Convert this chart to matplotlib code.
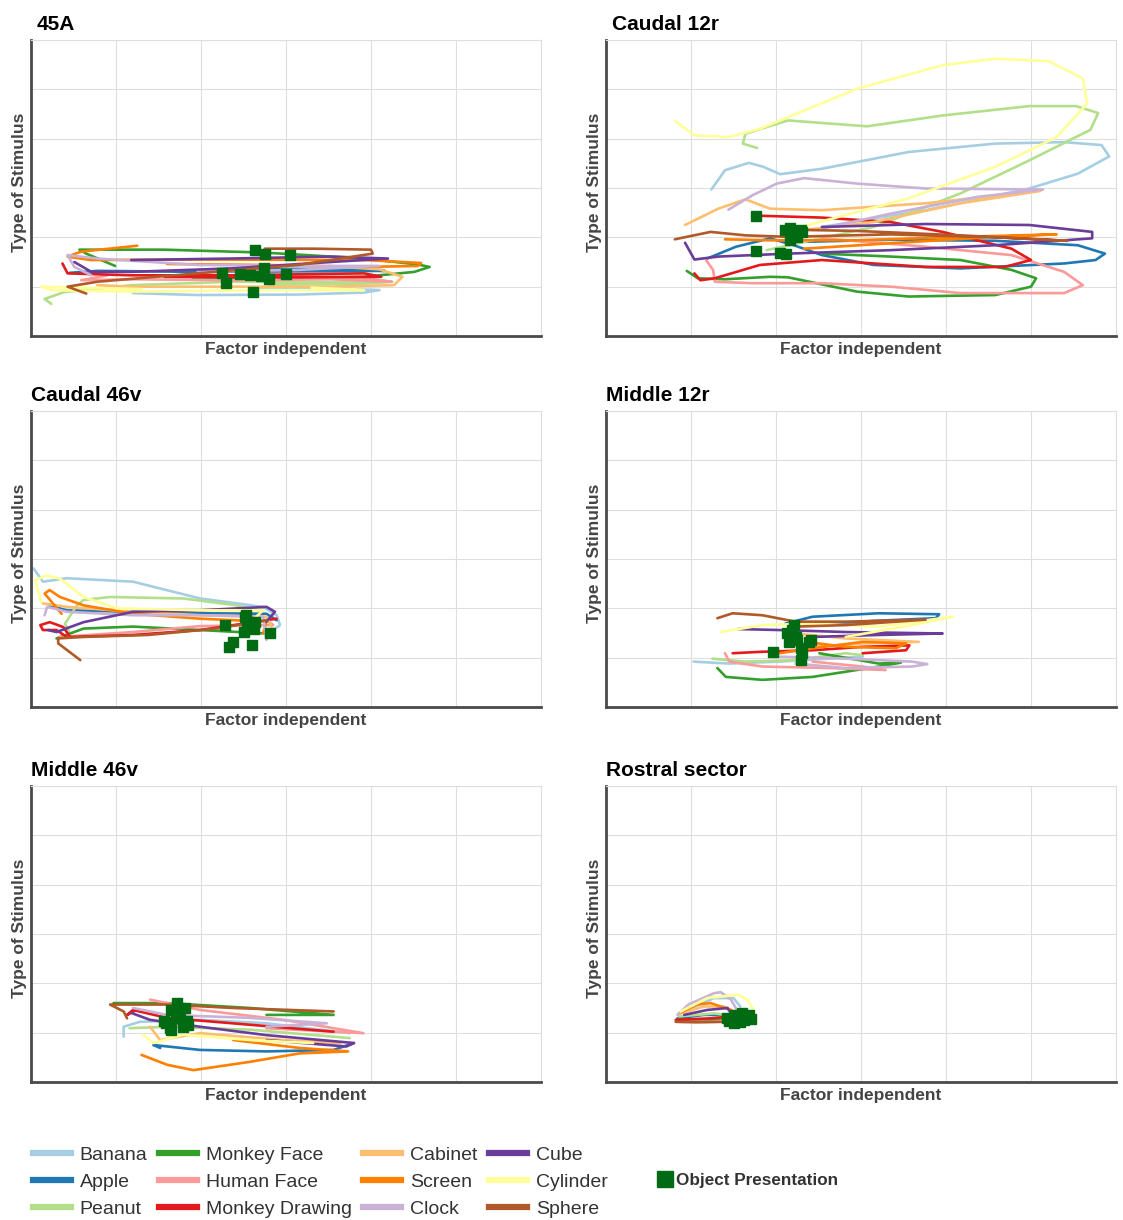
import matplotlib
matplotlib.use("Agg")
import matplotlib.pyplot as plt
from matplotlib.lines import Line2D

plt.rcParams['font.family'] = ['Liberation Sans', 'DejaVu Sans']

stimuli = ['Banana', 'Apple', 'Peanut', 'Monkey Face', 'Human Face', 'Monkey Drawing',
           'Cabinet', 'Screen', 'Clock', 'Cube', 'Cylinder', 'Sphere']
colors = ['#a6cee3', '#1f78b4', '#b2df8a', '#33a02c', '#fb9a99', '#e31a1c',
          '#fdbf6f', '#ff7f00', '#cab2d6', '#6a3d9a', '#ffff99', '#b15928']
regions = ['45A', 'Caudal 12r', 'Caudal 46v', 'Middle 12r', 'Middle 46v', 'Rostral sector']

# trajectories, one list per stimulus (same order as `stimuli`)
a45_x = [[1.2, 1.96, 3.14, 3.92, 4.1, 3.5, 2.6],
         [0.45, 0.78, 1.96, 3.14, 4.16, 3.5, 2.3],
         [0.24, 0.16, 0.39, 1.18, 2.35, 3.53, 4.25, 3.9, 2.8],
         [0.99, 0.65, 0.57, 1.57, 2.75, 3.92, 4.55, 4.69, 4.51, 3.92, 2.75, 1.9],
         [0.9, 0.59, 1.18, 2.35, 3.53, 4.24, 3.9, 3.0],
         [0.37, 0.43, 1.18, 2.35, 3.92, 4.12, 3.14, 1.57],
         [0.78, 1.18, 2.35, 3.53, 4.27, 4.37, 4.1, 3.5],
         [1.25, 0.59, 0.43, 0.7, 2.0, 3.92, 4.59, 4.55, 3.92, 2.75, 1.6],
         [0.71, 0.51, 0.43, 0.78, 1.96, 3.2, 4.1, 3.14, 1.96],
         [0.51, 0.71, 1.18, 2.35, 3.53, 4.2, 3.53, 2.35, 1.18],
         [1.3, 0.6, 0.12, 0.24, 1.18, 2.75, 3.92, 3.3],
         [0.65, 0.43, 0.78, 1.96, 3.14, 4.02, 4.0, 3.33, 2.75]]
a45_y = [[0.87, 0.83, 0.84, 0.88, 0.93, 0.97, 0.98],
         [1.28, 1.32, 1.30, 1.31, 1.32, 1.36, 1.36],
         [0.65, 0.75, 0.89, 1.03, 1.10, 1.09, 1.10, 1.06, 1.04],
         [1.42, 1.67, 1.75, 1.75, 1.69, 1.57, 1.45, 1.40, 1.30, 1.20, 1.17, 1.18],
         [1.23, 1.13, 1.15, 1.13, 1.15, 1.10, 1.18, 1.22],
         [1.47, 1.27, 1.23, 1.23, 1.27, 1.20, 1.19, 1.20],
         [1.03, 1.0, 1.0, 1.0, 1.03, 1.2, 1.35, 1.42],
         [1.83, 1.71, 1.61, 1.54, 1.55, 1.54, 1.48, 1.42, 1.40, 1.44, 1.46],
         [1.23, 1.40, 1.64, 1.57, 1.44, 1.42, 1.42, 1.34, 1.30],
         [1.50, 1.30, 1.30, 1.37, 1.50, 1.57, 1.61, 1.57, 1.54],
         [0.95, 0.98, 1.0, 0.93, 0.90, 0.93, 0.93, 0.98],
         [0.86, 1.0, 1.10, 1.27, 1.44, 1.67, 1.75, 1.77, 1.77]]
a45_mx = [2.64, 2.75, 3.05, 2.25, 2.29, 2.46, 2.58, 2.71, 2.74, 2.80, 3.0, 2.61]
a45_my = [1.74, 1.67, 1.64, 1.27, 1.08, 1.26, 1.24, 1.22, 1.37, 1.15, 1.25, 0.90]

c12_x = [[1.24, 1.40, 1.68, 1.85, 2.05, 2.54, 3.56, 4.58, 5.39, 5.83, 5.92, 5.55, 4.98, 3.76, 2.54],
         [1.19, 1.53, 1.93, 2.21, 2.54, 3.15, 4.17, 5.39, 5.76, 5.87, 5.55, 4.58, 3.35, 2.33],
         [1.78, 1.61, 1.64, 2.14, 3.07, 3.96, 4.98, 5.53, 5.79, 5.70, 4.98, 4.17, 3.15, 1.89],
         [0.95, 1.08, 1.40, 1.93, 2.14, 2.95, 3.56, 4.58, 5.0, 5.06, 4.77, 4.17, 3.35, 2.54],
         [1.18, 1.26, 1.28, 1.72, 2.54, 3.35, 4.17, 5.39, 5.61, 5.39, 4.77, 3.76, 2.54],
         [1.76, 2.54, 3.35, 3.96, 4.77, 5.0, 4.69, 3.76, 2.54, 1.81, 1.28, 1.11, 1.04],
         [0.93, 1.32, 1.64, 1.93, 2.54, 3.76, 5.11, 4.17, 3.15, 2.33],
         [1.40, 1.93, 2.95, 4.17, 5.30, 4.58, 3.35, 2.33],
         [1.44, 1.72, 2.01, 2.33, 2.95, 3.76, 5.14, 4.37, 3.35, 2.54],
         [0.93, 1.04, 1.32, 2.14, 3.35, 4.58, 5.72, 5.72, 4.98, 3.76, 2.54],
         [0.81, 1.04, 1.44, 1.81, 2.95, 3.96, 4.58, 5.21, 5.61, 5.66, 5.30, 4.58, 3.56, 2.29],
         [0.81, 1.23, 1.64, 2.14, 3.35, 4.58, 5.43, 4.17, 2.95, 2.33]]
c12_y = [[2.97, 3.36, 3.51, 3.43, 3.28, 3.39, 3.73, 3.9, 3.93, 3.87, 3.64, 3.29, 2.99, 2.55, 2.21],
         [1.57, 1.81, 1.98, 1.84, 1.64, 1.44, 1.37, 1.47, 1.54, 1.67, 1.84, 1.93, 1.95, 1.91],
         [3.81, 3.9, 4.1, 4.37, 4.25, 4.47, 4.66, 4.66, 4.52, 4.18, 3.56, 2.89, 2.21, 1.74],
         [1.32, 1.17, 1.15, 1.20, 1.19, 0.90, 0.80, 0.83, 1.0, 1.17, 1.34, 1.54, 1.61, 1.67],
         [1.53, 1.34, 1.10, 1.07, 1.07, 1.0, 0.87, 0.87, 1.03, 1.30, 1.64, 1.81, 1.98],
         [2.44, 2.40, 2.31, 2.11, 1.77, 1.54, 1.40, 1.40, 1.54, 1.44, 1.17, 1.13, 1.27],
         [2.25, 2.58, 2.77, 2.58, 2.55, 2.69, 2.94, 2.69, 2.31, 2.15],
         [1.96, 1.94, 1.94, 2.01, 2.06, 2.01, 1.88, 1.77],
         [2.56, 2.85, 3.09, 3.2, 3.09, 2.99, 2.97, 2.82, 2.48, 2.18],
         [1.89, 1.55, 1.61, 1.67, 1.74, 1.84, 1.98, 2.11, 2.25, 2.27, 2.21],
         [4.36, 4.07, 4.03, 4.2, 5.01, 5.49, 5.62, 5.57, 5.22, 4.71, 4.03, 3.43, 2.79, 2.21],
         [1.96, 2.11, 2.04, 2.01, 2.06, 2.0, 1.93, 2.04, 2.13, 2.15]]
c12_mx = [1.76, 1.76, 2.05, 2.12, 2.10, 2.17, 2.23, 2.31, 2.16, 2.25, 2.19, 2.29]
c12_my = [2.44, 1.72, 1.69, 1.67, 2.15, 2.18, 2.11, 2.10, 1.94, 2.01, 2.08, 2.15]

c46_x = [[0.03, 0.14, 0.42, 1.2, 1.99, 2.73, 2.89, 2.93, 2.81],
         [0.22, 0.42, 1.2, 2.0, 2.77, 2.89],
         [0.46, 0.40, 0.54, 0.62, 0.93, 1.79, 2.38, 2.69],
         [0.30, 0.62, 1.2, 1.99, 2.77],
         [0.34, 1.2, 1.99, 2.85, 2.77],
         [0.42, 0.30, 0.14, 0.11, 0.22, 0.38, 0.46, 1.2, 1.99, 2.89],
         [0.14, 0.42, 1.2, 1.99, 2.77, 2.83],
         [0.36, 0.16, 0.22, 0.34, 0.62, 1.2, 1.99, 2.77, 2.73],
         [0.16, 0.19, 0.42, 1.2, 1.99, 2.73, 2.77],
         [0.2, 0.30, 0.62, 1.2, 1.99, 2.77, 2.87, 2.77],
         [0.12, 0.05, 0.18, 0.34, 0.62, 1.01, 1.99, 2.73, 2.65],
         [0.58, 0.32, 0.32, 0.62, 1.38, 2.18, 2.77]]
c46_y = [[2.81, 2.54, 2.61, 2.54, 2.2, 2.03, 1.86, 1.66, 1.52],
         [2.06, 1.96, 1.93, 1.9, 1.89, 1.76],
         [1.49, 1.69, 2.06, 2.17, 2.23, 2.2, 2.07, 1.96],
         [1.39, 1.59, 1.63, 1.56, 1.49],
         [1.42, 1.52, 1.64, 1.66, 1.76],
         [1.42, 1.56, 1.56, 1.66, 1.72, 1.62, 1.42, 1.46, 1.56, 1.79],
         [2.1, 2.03, 1.93, 1.86, 1.83, 1.63],
         [1.89, 2.3, 2.37, 2.23, 2.06, 1.89, 1.79, 1.73, 1.49],
         [1.86, 2.03, 1.93, 1.86, 1.86, 1.83, 1.36],
         [1.56, 1.52, 1.72, 1.93, 1.96, 2.03, 1.93, 1.73],
         [2.13, 2.57, 2.67, 2.6, 2.23, 2.0, 1.96, 1.96, 1.83],
         [0.95, 1.29, 1.39, 1.42, 1.46, 1.59, 1.76]]
c46_mx = [2.53, 2.64, 2.54, 2.62, 2.50, 2.28, 2.81, 2.38, 2.33, 2.60, 2.52, 2.58]
c46_my = [1.86, 1.73, 1.73, 1.59, 1.52, 1.66, 1.49, 1.32, 1.21, 1.25, 1.83, 1.66]

m12_x = [[1.03, 1.45, 2.04, 2.62, 3.02],
         [2.11, 2.43, 3.21, 3.92, 3.88, 3.21, 2.62],
         [1.25, 1.64, 2.23, 2.82, 3.02],
         [1.31, 1.41, 1.84, 2.43, 3.21, 3.47, 3.21, 2.51],
         [1.4, 1.45, 1.84, 2.62, 3.29, 3.02, 2.43],
         [1.49, 1.84, 2.43, 3.02, 3.57, 3.53, 3.02],
         [2.23, 2.82, 3.68, 3.02, 2.43],
         [2.04, 2.43, 3.02, 3.53, 3.41, 2.82, 2.35],
         [2.04, 2.82, 3.6, 3.78, 3.6, 2.82, 2.23],
         [1.55, 2.04, 2.82, 3.96, 3.21, 2.43],
         [1.35, 1.84, 2.43, 3.21, 4.08, 3.6, 2.82],
         [1.31, 1.49, 1.84, 2.23, 2.82, 3.76, 2.82, 2.23]]
m12_y = [[0.92, 0.88, 0.92, 0.98, 1.02],
         [1.69, 1.83, 1.9, 1.88, 1.8, 1.75, 1.69],
         [0.98, 0.92, 0.95, 1.09, 1.05],
         [0.79, 0.61, 0.55, 0.61, 0.82, 0.9, 0.88, 1.09],
         [1.09, 0.92, 0.82, 0.79, 0.75, 0.82, 0.92],
         [1.09, 1.12, 1.15, 1.22, 1.25, 1.15, 1.09],
         [1.49, 1.39, 1.32, 1.29, 1.22],
         [1.09, 1.19, 1.32, 1.29, 1.19, 1.22, 1.32],
         [1.02, 0.98, 0.92, 0.87, 0.82, 0.79, 0.88],
         [1.58, 1.56, 1.52, 1.49, 1.46, 1.42],
         [1.52, 1.66, 1.69, 1.63, 1.83, 1.66, 1.42],
         [1.8, 1.9, 1.86, 1.73, 1.73, 1.77, 1.66, 1.63]]
m12_mx = [2.21, 2.19, 2.13, 2.15, 2.25, 2.39, 2.41, 2.29, 2.31, 2.29, 1.97, 2.23]
m12_my = [1.66, 1.56, 1.49, 1.32, 1.36, 1.32, 1.36, 1.19, 1.09, 0.95, 1.11, 1.42]

m46_x = [[1.09, 1.09, 1.28, 1.99, 2.77, 3.75],
         [1.52, 1.44, 1.99, 2.77, 3.56, 3.8],
         [1.16, 1.6, 2.58, 3.75],
         [0.97, 1.6, 2.58, 3.56, 2.77],
         [1.4, 1.99, 2.97, 3.91, 3.56, 2.77],
         [1.24, 1.13, 1.2, 1.6, 2.58, 3.56],
         [1.4, 1.52, 1.99, 2.97, 3.64],
         [1.3, 1.6, 1.91, 2.58, 3.16, 3.73, 3.16, 2.38],
         [1.2, 1.6, 2.58, 3.48, 2.77],
         [1.18, 1.40, 1.99, 2.77, 3.8, 3.71, 2.77],
         [1.32, 1.44, 1.79, 2.58, 3.32],
         [1.13, 1.09, 0.93, 1.6, 2.38, 3.56]]
m46_y = [[0.92, 1.12, 1.22, 1.26, 1.19, 0.99],
         [0.69, 0.75, 0.65, 0.62, 0.65, 0.79],
         [1.09, 1.12, 1.06, 0.89],
         [1.60, 1.60, 1.50, 1.36, 1.36],
         [1.67, 1.46, 1.26, 0.99, 1.02, 1.09],
         [1.46, 1.36, 1.46, 1.30, 1.16, 1.02],
         [1.12, 0.85, 0.99, 0.85, 0.79],
         [0.55, 0.35, 0.24, 0.41, 0.58, 0.62, 0.69, 0.85],
         [1.50, 1.36, 1.30, 1.19, 1.12],
         [1.40, 1.26, 1.12, 0.95, 0.79, 0.72, 0.85],
         [0.96, 0.79, 0.96, 0.85, 0.79],
         [1.29, 1.43, 1.57, 1.57, 1.50, 1.43]]
m46_mx = [1.72, 1.65, 1.81, 1.75, 1.59, 1.64, 1.71, 1.83, 1.79, 1.65, 1.56, 1.85]
m46_my = [1.61, 1.46, 1.50, 1.40, 1.19, 1.09, 1.30, 1.23, 1.12, 1.06, 1.23, 1.16]

ros_x = [[0.92, 1.27, 1.5, 1.58],
         [0.84, 1.15, 1.47],
         [0.86, 1.27, 1.55],
         [0.84, 1.19, 1.47],
         [0.84, 1.27, 1.47],
         [0.82, 1.23, 1.47],
         [0.88, 1.15, 1.39, 1.51],
         [0.86, 1.07, 1.23, 1.47],
         [0.84, 0.97, 1.27, 1.35, 1.47, 1.55],
         [0.92, 1.19, 1.43, 1.47],
         [0.88, 1.19, 1.55, 1.66, 1.74],
         [0.82, 1.07, 1.39]]
ros_y = [[1.43, 1.70, 1.70, 1.53],
         [1.29, 1.36, 1.36],
         [1.33, 1.39, 1.33],
         [1.26, 1.26, 1.29],
         [1.22, 1.22, 1.26],
         [1.26, 1.29, 1.33],
         [1.39, 1.53, 1.53, 1.43],
         [1.39, 1.57, 1.60, 1.46],
         [1.36, 1.57, 1.80, 1.82, 1.67, 1.43],
         [1.36, 1.46, 1.50, 1.39],
         [1.43, 1.70, 1.77, 1.67, 1.46],
         [1.22, 1.21, 1.22]]
ros_mx = [1.42, 1.48, 1.52, 1.56, 1.60, 1.64, 1.68, 1.70, 1.58, 1.50, 1.45, 1.62]
ros_my = [1.30, 1.25, 1.36, 1.30, 1.40, 1.33, 1.36, 1.28, 1.22, 1.20, 1.24, 1.26]

panels = [(a45_x, a45_y, a45_mx, a45_my), (c12_x, c12_y, c12_mx, c12_my),
          (c46_x, c46_y, c46_mx, c46_my), (m12_x, m12_y, m12_mx, m12_my),
          (m46_x, m46_y, m46_mx, m46_my), (ros_x, ros_y, ros_mx, ros_my)]

W, H = 1123, 1220
fig = plt.figure(figsize=(W / 100, H / 100), dpi=100)
col_left = [31, 606]
row_bottom = [336, 707, 1082]
marker_col = '#006b12'

for i, (xs, ys, mx, my) in enumerate(panels):
    r, c = divmod(i, 2)
    ax = fig.add_axes([col_left[c] / W, (H - row_bottom[r]) / H, 510 / W, 296 / H])
    for k in range(len(stimuli)):
        ax.plot(xs[k], ys[k], color=colors[k], lw=1.9, solid_joinstyle='round',
                solid_capstyle='round', zorder=2)
    ax.plot(mx, my, 's', color=marker_col, ms=7, zorder=4)
    ax.set_xlim(0, 6)
    ax.set_ylim(0, 6)
    ax.set_xticks(range(7))
    ax.set_yticks(range(7))
    ax.tick_params(length=0, labelbottom=False, labelleft=False)
    ax.grid(True, color='#dedede', lw=0.8, zorder=0)
    ax.set_axisbelow(True)
    for s in ['top', 'right']:
        ax.spines[s].set_color('#dedede')
        ax.spines[s].set_linewidth(0.8)
    for s in ['left', 'bottom']:
        ax.spines[s].set_color('#4a4a4a')
        ax.spines[s].set_linewidth(2)
    ax.set_xlabel('Factor independent', fontsize=12.5, fontweight='bold', color='#444444', labelpad=4)
    ax.set_ylabel('Type of Stimulus', fontsize=12.5, fontweight='bold', color='#444444')
    ax.yaxis.set_label_coords(-4 / 510, 0.52)
    # first row titles sit a little to the right of the axis
    tx = 6 / 510 if r == 0 else 0.0
    ax.text(tx, 1 + 10 / 296, regions[i], transform=ax.transAxes, ha='left', va='baseline',
            fontsize=15, fontweight='bold', color='black')

handles = [Line2D([], [], color=colors[k], lw=4.5) for k in range(len(stimuli))]
leg = fig.legend(handles, stimuli, ncol=4, loc='upper left', bbox_to_anchor=(33 / W, 1 - 1146 / H),
                 frameon=False, fontsize=14, handlelength=1.95, handletextpad=0.45,
                 columnspacing=0.6, labelspacing=0.5, borderpad=0, borderaxespad=0)
for t in leg.get_texts():
    t.set_color('#333333')

obj = fig.legend([Line2D([], [], ls='none', marker='s', color=marker_col, ms=11)],
                 ['Object Presentation'], loc='center left',
                 bbox_to_anchor=(659 / W, 1 - 1180 / H), frameon=False,
                 handlelength=0.7, handletextpad=0.3, borderpad=0, borderaxespad=0,
                 prop={'weight': 'bold', 'size': 12.3})
obj.get_texts()[0].set_color('#333333')

fig.savefig('out.png', dpi=100)
